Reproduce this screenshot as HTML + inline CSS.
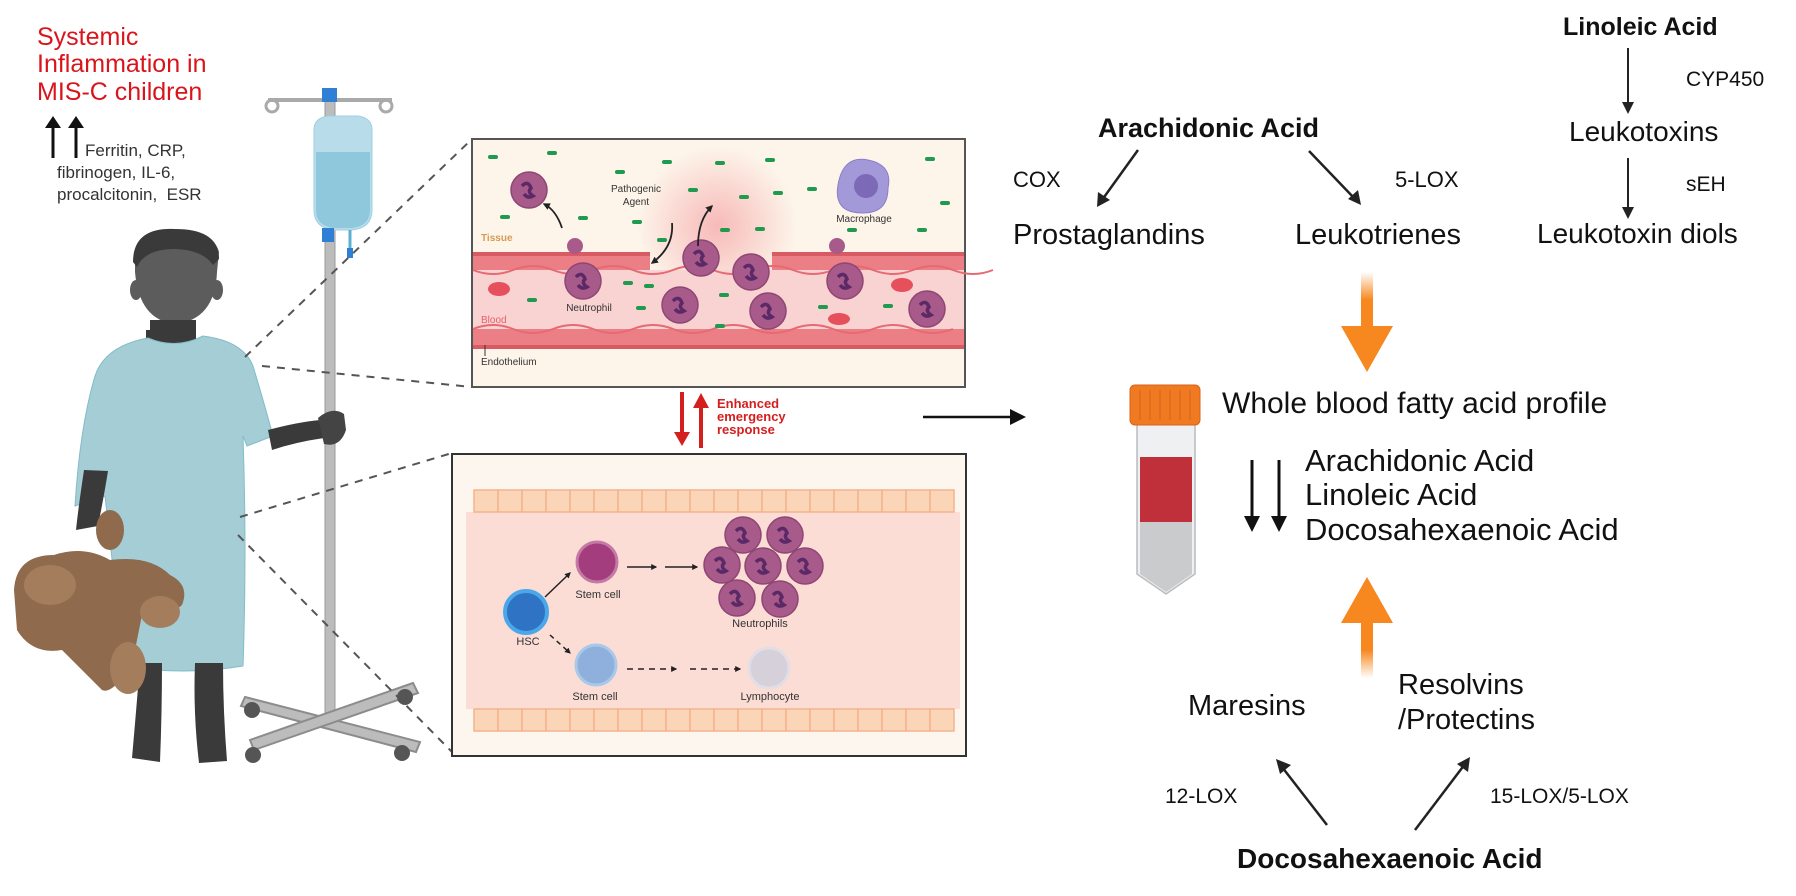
<!DOCTYPE html>
<html><head><meta charset="utf-8"><style>
html,body{margin:0;padding:0;background:#fff;}
svg{display:block;font-family:"Liberation Sans",Arial,sans-serif;}
</style></head><body>
<svg width="1796" height="896" viewBox="0 0 1796 896" xmlns="http://www.w3.org/2000/svg">
<defs>
<marker id="ah" viewBox="0 0 10 10" refX="8" refY="5" markerWidth="6" markerHeight="6" orient="auto"><path d="M0,0L10,5L0,10z" fill="#222"/></marker>
<marker id="ahs" viewBox="0 0 10 10" refX="8" refY="5" markerWidth="4" markerHeight="4" orient="auto"><path d="M0,0L10,5L0,10z" fill="#222"/></marker>
<radialGradient id="glow"><stop offset="0" stop-color="#f6b3b3" stop-opacity="0.9"/><stop offset="1" stop-color="#f6b3b3" stop-opacity="0"/></radialGradient>
<linearGradient id="og1" x1="0" y1="0" x2="0" y2="1"><stop offset="0" stop-color="#f7871f" stop-opacity="0"/><stop offset="0.5" stop-color="#f7871f"/></linearGradient>
<linearGradient id="og2" x1="0" y1="1" x2="0" y2="0"><stop offset="0" stop-color="#f7871f" stop-opacity="0"/><stop offset="0.5" stop-color="#f7871f"/></linearGradient>
<g id="neu"><circle r="18" fill="#a85a8a" stroke="#8e4673" stroke-width="1.5"/><path d="M-7,-4 q6,-6 9,2 q-4,4 2,8 q-5,3 -9,-2" fill="none" stroke="#5b2a66" stroke-width="3.5"/></g>
<g id="bac"><rect x="-5" y="-2" width="10" height="4" rx="2" fill="#1f9a4e"/></g>
</defs>

<!-- Top-left text -->
<g fill="#d9141b" font-size="25">
<text x="37" y="45">Systemic</text>
<text x="37" y="72">Inflammation in</text>
<text x="37" y="100">MIS-C children</text>
</g>
<g stroke="#111" stroke-width="3"><line x1="53" y1="158" x2="53" y2="126"/><line x1="76" y1="158" x2="76" y2="126"/></g>
<path d="M45,128L53,116L61,128z M68,128L76,116L84,128z" fill="#111"/>
<g fill="#333" font-size="17">
<text x="85" y="156">Ferritin, CRP,</text>
<text x="57" y="178">fibrinogen, IL-6,</text>
<text x="57" y="200">procalcitonin,&#160; ESR</text>
</g>

<!-- IV stand -->
<path d="M268,100 L392,100" stroke="#aaa" stroke-width="4"/>
<circle cx="272" cy="106" r="6" fill="none" stroke="#aaa" stroke-width="3"/>
<circle cx="386" cy="106" r="6" fill="none" stroke="#aaa" stroke-width="3"/>
<rect x="325" y="95" width="10" height="625" fill="#bdbcbc" stroke="#9a9a9a"/>
<rect x="322" y="88" width="15" height="14" fill="#2f7fd4"/>
<path d="M314,130 q0,-12 14,-14 h30 q14,2 14,14 v80 q0,18 -20,20 h-18 q-20,-2 -20,-20z" fill="#b8dcea" stroke="#9fcfe2"/>
<path d="M316,152 h54 v58 q0,16 -18,18 h-18 q-18,-2 -18,-18z" fill="#8fc7dc"/>
<rect x="322" y="228" width="12" height="14" fill="#2f7fd4"/>
<path d="M350,230 v22" stroke="#5ab0d0" stroke-width="3"/><rect x="347" y="248" width="6" height="10" fill="#2f7fd4"/>
<g fill="#bdbcbc" stroke="#8c8c8c" stroke-width="2">
<path d="M245,697 L420,742 L416,752 L241,706z"/>
<path d="M413,683 L250,740 L254,750 L418,693z"/>
</g>
<g fill="#555"><circle cx="252" cy="710" r="8"/><circle cx="405" cy="697" r="8"/><circle cx="253" cy="755" r="8"/><circle cx="402" cy="753" r="8"/></g>

<!-- Child -->
<path d="M146,350 h50 v-20 h-50z" fill="#3a3a3a"/>
<path d="M135,250 q5,-22 40,-20 q38,0 44,22 l-2,20 q-2,48 -42,52 q-36,-4 -40,-52z" fill="#5c5c5c"/>
<path d="M133,262 q0,-35 42,-33 q44,0 44,30 l-6,6 q-10,-15 -38,-16 q-30,0 -38,18z" fill="#3a3a3a"/>
<ellipse cx="136" cy="290" rx="6" ry="10" fill="#5c5c5c"/><ellipse cx="217" cy="290" rx="6" ry="10" fill="#5c5c5c"/>
<path d="M150,320 h46 v25 h-46z" fill="#3a3a3a"/>
<path d="M148,338 q28,12 55,-2 q40,5 50,30 q12,40 20,70 l-26,10 l-4,-10 q4,120 0,230 q-60,10 -120,0 l-8,-80 l-10,-90 l-30,10 q5,-80 20,-130 q10,-30 53,-38z" fill="#a4cdd6" stroke="#82bcc8"/>
<path d="M268,430 q30,-8 52,-10 l4,18 q-28,4 -52,12z" fill="#3a3a3a"/>
<path d="M318,418 q14,-12 26,-4 l2,16 q-6,18 -22,14z" fill="#444"/>
<path d="M84,470 q-6,40 -8,60 l22,-4 q6,-30 10,-55z" fill="#3a3a3a"/>
<path d="M140,663 q-4,50 -8,95 l28,4 q2,-50 2,-99z M195,663 q-2,50 4,100 l28,-2 q-4,-50 -4,-98z" fill="#3a3a3a"/>
<g fill="#8f6a4c">
<path d="M14,590 q2,-35 40,-35 q30,-10 56,5 q40,-5 60,15 q20,10 12,30 q-20,18 -40,10 l-10,50 q-20,30 -30,25 q-25,-25 -40,-40 q-30,5 -45,-20z"/>
<ellipse cx="110" cy="530" rx="14" ry="20"/>
</g>
<g fill="#a47d5c"><ellipse cx="50" cy="585" rx="26" ry="20"/><ellipse cx="160" cy="612" rx="20" ry="16"/><ellipse cx="128" cy="668" rx="18" ry="26"/></g>

<!-- Dashed connectors -->
<g stroke="#555" stroke-width="2" stroke-dasharray="8,7" fill="none">
<line x1="245" y1="357" x2="472" y2="139"/>
<line x1="262" y1="366" x2="472" y2="387"/>
<line x1="240" y1="517" x2="452" y2="453"/>
<line x1="238" y1="535" x2="452" y2="752"/>
</g>

<!-- Top panel -->
<rect x="472" y="139" width="493" height="248" fill="#fdf5ea" stroke="#555" stroke-width="2"/>
<circle cx="717" cy="226" r="80" fill="url(#glow)"/>
<rect x="473" y="252" width="177" height="18" fill="#ec7f85"/>
<rect x="772" y="252" width="192" height="18" fill="#ec7f85"/>
<rect x="473" y="270" width="491" height="59" fill="#f9d2d2"/>
<rect x="473" y="329" width="491" height="20" fill="#ec7f85"/>
<path d="M473,270 q20,8 40,0 t40,0 t40,0 t40,0 t40,0 t40,0 t40,0 t40,0 t40,0 t40,0 t40,0 t40,0 t40,0" fill="none" stroke="#e66a73" stroke-width="2"/>
<path d="M473,329 q20,-8 40,0 t40,0 t40,0 t40,0 t40,0 t40,0 t40,0 t40,0 t40,0 t40,0 t40,0 t40,0" fill="none" stroke="#e66a73" stroke-width="2"/>
<rect x="473" y="252" width="177" height="4" fill="#d85a62"/><rect x="772" y="252" width="192" height="4" fill="#d85a62"/>
<rect x="473" y="345" width="491" height="4" fill="#d85a62"/>
<g fill="#e6505c"><ellipse cx="499" cy="289" rx="11" ry="7"/><ellipse cx="902" cy="285" rx="11" ry="7"/><ellipse cx="839" cy="319" rx="11" ry="6"/></g>
<use href="#neu" x="529" y="190"/>
<circle cx="575" cy="246" r="8" fill="#a85a8a"/>
<use href="#neu" x="583" y="281"/>
<use href="#neu" x="701" y="258"/>
<use href="#neu" x="751" y="272"/>
<use href="#neu" x="680" y="305"/>
<use href="#neu" x="768" y="311"/>
<circle cx="837" cy="246" r="8" fill="#a85a8a"/>
<use href="#neu" x="845" y="281"/>
<use href="#neu" x="927" y="309"/>
<path d="M838,185 q5,-30 30,-25 q25,5 20,28 q0,25 -25,25 q-30,0 -25,-28z" fill="#a399d8" stroke="#8a7fc8"/>
<circle cx="866" cy="186" r="12" fill="#7c6ab8"/>
<g>
<use href="#bac" x="493" y="157"/><use href="#bac" x="552" y="153"/><use href="#bac" x="620" y="172"/><use href="#bac" x="667" y="162"/><use href="#bac" x="720" y="163"/><use href="#bac" x="770" y="160"/><use href="#bac" x="930" y="159"/>
<use href="#bac" x="693" y="190"/><use href="#bac" x="744" y="197"/><use href="#bac" x="778" y="193"/><use href="#bac" x="812" y="189"/><use href="#bac" x="945" y="203"/>
<use href="#bac" x="505" y="217"/><use href="#bac" x="583" y="218"/><use href="#bac" x="637" y="222"/><use href="#bac" x="725" y="230"/><use href="#bac" x="760" y="229"/><use href="#bac" x="852" y="230"/><use href="#bac" x="922" y="230"/>
<use href="#bac" x="628" y="283"/><use href="#bac" x="649" y="286"/><use href="#bac" x="724" y="295"/><use href="#bac" x="641" y="308"/><use href="#bac" x="532" y="300"/><use href="#bac" x="720" y="326"/><use href="#bac" x="823" y="307"/><use href="#bac" x="888" y="306"/><use href="#bac" x="662" y="240"/>
</g>
<g stroke="#222" stroke-width="1.8" fill="none">
<path d="M562,228 q-6,-18 -18,-24" marker-end="url(#ahs)"/>
<path d="M672,223 q2,24 -20,40" marker-end="url(#ahs)"/>
<path d="M698,246 q0,-26 14,-40" marker-end="url(#ahs)"/>
</g>
<g font-size="10" fill="#333">
<text x="636" y="192" text-anchor="middle">Pathogenic</text><text x="636" y="205" text-anchor="middle">Agent</text>
<text x="864" y="222" text-anchor="middle">Macrophage</text>
<text x="589" y="311" text-anchor="middle">Neutrophil</text>
<text x="481" y="365">Endothelium</text>
</g>
<text x="481" y="241" font-size="10" fill="#d89a50" font-weight="bold">Tissue</text>
<text x="481" y="323" font-size="10" fill="#e8606a">Blood</text>
<line x1="485" y1="345" x2="485" y2="356" stroke="#333"/>

<!-- Enhanced arrows -->
<rect x="680" y="392" width="4" height="42" fill="#d41f1f"/><path d="M674,432 L682,446 L690,432z" fill="#d41f1f"/>
<rect x="699" y="406" width="4" height="42" fill="#d41f1f"/><path d="M693,408 L701,393 L709,408z" fill="#d41f1f"/>
<g font-size="13" font-weight="bold" fill="#d41f1f">
<text x="717" y="408">Enhanced</text><text x="717" y="421">emergency</text><text x="717" y="434">response</text>
</g>

<!-- Bottom panel -->
<rect x="452" y="454" width="514" height="302" fill="#fdf6ee" stroke="#333" stroke-width="2"/>
<rect x="466" y="512" width="494" height="197" fill="#fbddd6"/>
<g fill="#fbd5b8" stroke="#f4b48c" stroke-width="1.5">
<rect x="474" y="490" width="24" height="22"/><rect x="498" y="490" width="24" height="22"/><rect x="522" y="490" width="24" height="22"/><rect x="546" y="490" width="24" height="22"/><rect x="570" y="490" width="24" height="22"/><rect x="594" y="490" width="24" height="22"/><rect x="618" y="490" width="24" height="22"/><rect x="642" y="490" width="24" height="22"/><rect x="666" y="490" width="24" height="22"/><rect x="690" y="490" width="24" height="22"/><rect x="714" y="490" width="24" height="22"/><rect x="738" y="490" width="24" height="22"/><rect x="762" y="490" width="24" height="22"/><rect x="786" y="490" width="24" height="22"/><rect x="810" y="490" width="24" height="22"/><rect x="834" y="490" width="24" height="22"/><rect x="858" y="490" width="24" height="22"/><rect x="882" y="490" width="24" height="22"/><rect x="906" y="490" width="24" height="22"/><rect x="930" y="490" width="24" height="22"/>
<rect x="474" y="709" width="24" height="22"/><rect x="498" y="709" width="24" height="22"/><rect x="522" y="709" width="24" height="22"/><rect x="546" y="709" width="24" height="22"/><rect x="570" y="709" width="24" height="22"/><rect x="594" y="709" width="24" height="22"/><rect x="618" y="709" width="24" height="22"/><rect x="642" y="709" width="24" height="22"/><rect x="666" y="709" width="24" height="22"/><rect x="690" y="709" width="24" height="22"/><rect x="714" y="709" width="24" height="22"/><rect x="738" y="709" width="24" height="22"/><rect x="762" y="709" width="24" height="22"/><rect x="786" y="709" width="24" height="22"/><rect x="810" y="709" width="24" height="22"/><rect x="834" y="709" width="24" height="22"/><rect x="858" y="709" width="24" height="22"/><rect x="882" y="709" width="24" height="22"/><rect x="906" y="709" width="24" height="22"/><rect x="930" y="709" width="24" height="22"/>
</g>
<circle cx="526" cy="612" r="21" fill="#2e73c4" stroke="#4aa8ea" stroke-width="4"/>
<circle cx="597" cy="562" r="20" fill="#a43d7d" stroke="#c47aa5" stroke-width="3"/>
<circle cx="596" cy="665" r="20" fill="#8fb0dc" stroke="#a9c8ea" stroke-width="3"/>
<circle cx="769" cy="668" r="20" fill="#d6d0da" stroke="#e3dde6" stroke-width="3"/>
<use href="#neu" x="743" y="535"/><use href="#neu" x="785" y="535"/><use href="#neu" x="722" y="565"/><use href="#neu" x="763" y="566"/><use href="#neu" x="805" y="566"/><use href="#neu" x="737" y="598"/><use href="#neu" x="780" y="599"/>
<g stroke="#222" stroke-width="1.5">
<line x1="545" y1="597" x2="570" y2="573" marker-end="url(#ahs)"/>
<line x1="627" y1="567" x2="656" y2="567" marker-end="url(#ahs)"/>
<line x1="665" y1="567" x2="697" y2="567" marker-end="url(#ahs)"/>
<line x1="550" y1="635" x2="570" y2="653" stroke-dasharray="5,4" marker-end="url(#ahs)"/>
<line x1="627" y1="669" x2="676" y2="669" stroke-dasharray="6,5" marker-end="url(#ahs)"/>
<line x1="690" y1="669" x2="740" y2="669" stroke-dasharray="6,5" marker-end="url(#ahs)"/>
</g>
<g font-size="11" fill="#333" text-anchor="middle">
<text x="598" y="598">Stem cell</text><text x="760" y="627">Neutrophils</text><text x="528" y="645">HSC</text><text x="595" y="700">Stem cell</text><text x="770" y="700">Lymphocyte</text>
</g>

<!-- Black arrow to right -->
<line x1="923" y1="417" x2="1018" y2="417" stroke="#111" stroke-width="2.5"/>
<path d="M1010,409 L1026,417 L1010,425z" fill="#111"/>

<!-- Arachidonic pathway -->
<text x="1098" y="137" font-size="27" font-weight="bold" fill="#111">Arachidonic Acid</text>
<g font-size="22" fill="#111"><text x="1013" y="187">COX</text><text x="1395" y="187">5-LOX</text></g>
<g font-size="29" fill="#111"><text x="1013" y="244">Prostaglandins</text><text x="1295" y="244">Leukotrienes</text></g>
<g stroke="#222" stroke-width="2.5"><line x1="1138" y1="150" x2="1102" y2="200"/><line x1="1309" y1="151" x2="1355" y2="199"/></g>
<path d="M1097,207 L1098,192 L1110,200z M1361,205 L1348,199 L1358,190z" fill="#222"/>

<!-- Linoleic pathway -->
<text x="1563" y="35" font-size="25" font-weight="bold" fill="#111">Linoleic Acid</text>
<g stroke="#222" stroke-width="2"><line x1="1628" y1="48" x2="1628" y2="105"/><line x1="1628" y1="158" x2="1628" y2="210"/></g>
<path d="M1622,102 L1628,114 L1634,102z M1622,207 L1628,219 L1634,207z" fill="#222"/>
<g font-size="21" fill="#111"><text x="1686" y="86">CYP450</text><text x="1686" y="191">sEH</text></g>
<g font-size="28" fill="#111"><text x="1569" y="141">Leukotoxins</text><text x="1537" y="243">Leukotoxin diols</text></g>

<!-- Orange arrows -->
<rect x="1361" y="272" width="12" height="56" fill="url(#og1)"/>
<path d="M1341,326 L1393,326 L1367,372z" fill="#f7871f"/>
<rect x="1361" y="622" width="12" height="56" fill="url(#og2)"/>
<path d="M1341,623 L1393,623 L1367,577z" fill="#f7871f"/>

<!-- Tube -->
<path d="M1137,424 h58 v150 l-29,20 l-29,-20z" fill="#eef0f1" stroke="#b8bcbf" stroke-width="1.5"/>
<rect x="1140" y="457" width="52" height="65" fill="#c0303a"/>
<path d="M1140,522 h52 v52 l-26,18 l-26,-18z" fill="#c9cbcd"/>
<rect x="1130" y="385" width="70" height="40" rx="5" fill="#f07a22" stroke="#d9621a"/>
<g stroke="#d9621a" stroke-width="1"><line x1="1140" y1="390" x2="1140" y2="420"/><line x1="1150" y1="390" x2="1150" y2="420"/><line x1="1160" y1="390" x2="1160" y2="420"/><line x1="1170" y1="390" x2="1170" y2="420"/><line x1="1180" y1="390" x2="1180" y2="420"/><line x1="1190" y1="390" x2="1190" y2="420"/></g>

<!-- Whole blood -->
<text x="1222" y="413" font-size="30" fill="#111">Whole blood fatty acid profile</text>
<g stroke="#111" stroke-width="3"><line x1="1252" y1="460" x2="1252" y2="520"/><line x1="1279" y1="460" x2="1279" y2="520"/></g>
<path d="M1244,516 L1252,532 L1260,516z M1271,516 L1279,532 L1287,516z" fill="#111"/>
<g font-size="31" fill="#111"><text x="1305" y="471">Arachidonic Acid</text><text x="1305" y="505">Linoleic Acid</text><text x="1305" y="540">Docosahexaenoic Acid</text></g>

<!-- DHA pathway -->
<g font-size="29" fill="#111"><text x="1188" y="715">Maresins</text><text x="1398" y="694">Resolvins</text><text x="1398" y="729">/Protectins</text></g>
<g font-size="21" fill="#111"><text x="1165" y="803">12-LOX</text><text x="1490" y="803">15-LOX/5-LOX</text></g>
<g stroke="#222" stroke-width="2.5"><line x1="1327" y1="825" x2="1282" y2="767"/><line x1="1415" y1="830" x2="1465" y2="764"/></g>
<path d="M1276,759 L1291,765 L1280,774z M1470,757 L1468,772 L1457,764z" fill="#222"/>
<text x="1237" y="868" font-size="28" font-weight="bold" fill="#111">Docosahexaenoic Acid</text>
</svg>
</body></html>
